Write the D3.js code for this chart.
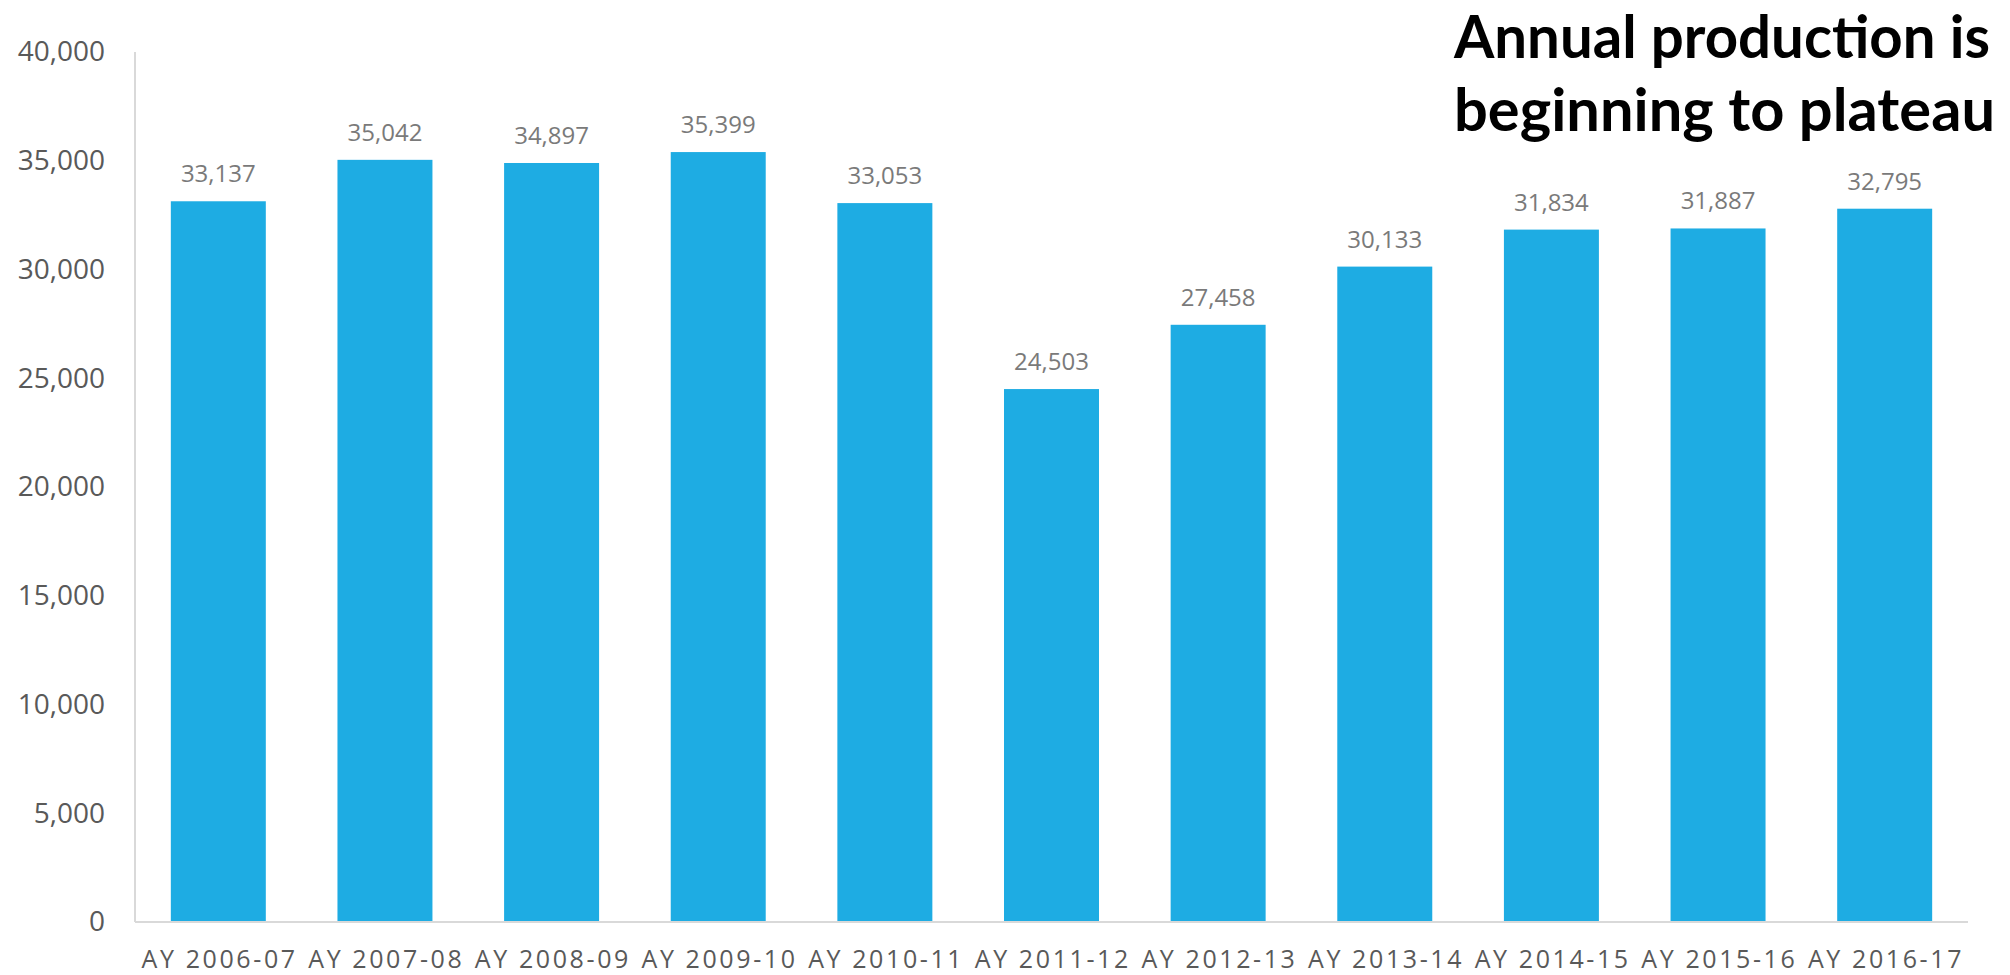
<!DOCTYPE html>
<html>
<head>
<meta charset="utf-8">
<script src="https://cdn.jsdelivr.net/npm/d3@7"></script>
<style>
  html, body { margin: 0; padding: 0; background: #ffffff; }
  svg { display: block; }
</style>
</head>
<body>
<svg id="chart" width="2010" height="975"></svg>
<script>
// Academic years on the category axis
const years = ["AY 2006-07", "AY 2007-08", "AY 2008-09", "AY 2009-10", "AY 2010-11",
               "AY 2011-12", "AY 2012-13", "AY 2013-14", "AY 2014-15", "AY 2015-16", "AY 2016-17"];
// Annual production per year
const production = [33137, 35042, 34897, 35399, 33053, 24503, 27458, 30133, 31834, 31887, 32795];
// Value axis ticks
const yTicks = [0, 5000, 10000, 15000, 20000, 25000, 30000, 35000, 40000];
// Headline
const titleLines = ["Annual production is", "beginning to plateau"];

const svg = d3.select("#chart");
const plot = { left: 135, right: 1968, top: 52, bottom: 922 };

const x = d3.scaleBand()
  .domain(years)
  .range([plot.left, plot.right])
  .paddingInner(0.43)
  .paddingOuter(0.215);

const y = d3.scaleLinear()
  .domain([0, 40000])
  .range([plot.bottom, plot.top]);

const fmt = d3.format(",");

// Value axis labels (no tick marks)
const yAxis = d3.axisLeft(y).tickValues(yTicks).tickFormat(fmt).tickSize(0).tickPadding(30);
const gy = svg.append("g").attr("transform", `translate(${plot.left},0)`).call(yAxis);
gy.select(".domain").remove();
gy.selectAll("text")
  .attr("font-family", "'Open Sans', sans-serif")
  .attr("font-size", 28)
  .attr("fill", "#595959");

// Vertical axis line
svg.append("line")
  .attr("x1", plot.left).attr("x2", plot.left)
  .attr("y1", plot.top).attr("y2", plot.bottom)
  .attr("stroke", "#d9d9d9").attr("stroke-width", 2);

// Bars
svg.append("g").selectAll("rect")
  .data(production)
  .join("rect")
  .attr("x", (d, i) => x(years[i]))
  .attr("width", x.bandwidth())
  .attr("y", d => y(d))
  .attr("height", d => y(0) - y(d))
  .attr("fill", "#1eace3");

// Value labels above bars
svg.append("g").selectAll("text")
  .data(production)
  .join("text")
  .attr("x", (d, i) => x(years[i]) + x.bandwidth() / 2)
  .attr("y", d => y(d) - 19)
  .attr("text-anchor", "middle")
  .attr("font-family", "'Open Sans', sans-serif")
  .attr("font-size", 24)
  .attr("fill", "#7a7a7a")
  .text(d => fmt(d));

// Category axis
const xAxis = d3.axisBottom(x).tickSize(0).tickPadding(28);
const gx = svg.append("g").attr("transform", `translate(0,${plot.bottom})`).call(xAxis);
gx.select(".domain").remove();
gx.selectAll("text")
  .attr("font-family", "'Open Sans', sans-serif")
  .attr("font-size", 25)
  .attr("fill", "#595959")
  .attr("letter-spacing", "2.6px")
  .attr("dx", 1.3);

// Horizontal axis line
svg.append("line")
  .attr("x1", plot.left).attr("x2", plot.right)
  .attr("y1", plot.bottom).attr("y2", plot.bottom)
  .attr("stroke", "#d9d9d9").attr("stroke-width", 2);

// Headline, top right
const title = svg.append("g")
  .attr("font-family", "Lato, 'Open Sans', sans-serif")
  .attr("font-weight", 700)
  .attr("font-size", 59)
  .attr("fill", "#000000");
title.selectAll("text")
  .data(titleLines)
  .join("text")
  .attr("x", 1454)
  .attr("y", (d, i) => 58 + i * 73)
  .attr("textLength", (d, i) => i === 0 ? 536 : 541)
  .attr("lengthAdjust", "spacingAndGlyphs")
  .text(d => d);
</script>
</body>
</html>
